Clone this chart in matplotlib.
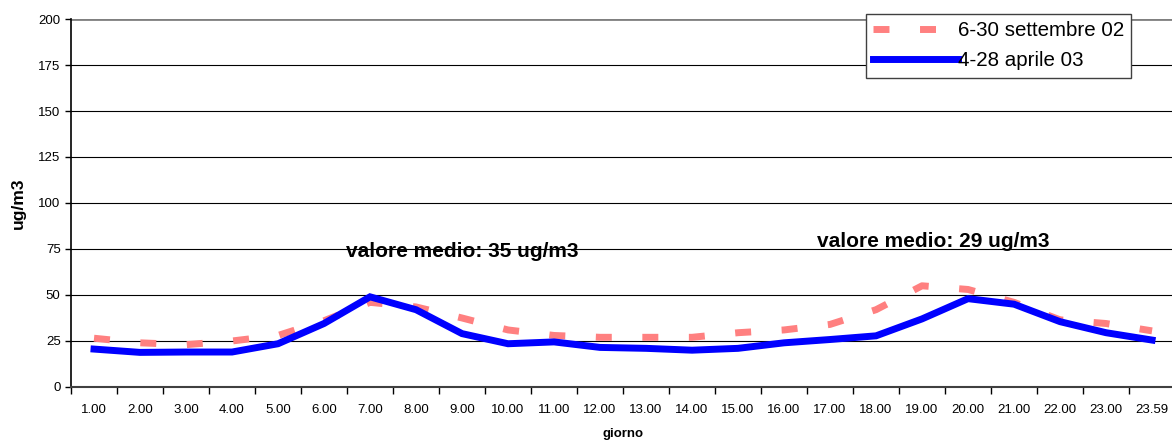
import numpy as np
import matplotlib.pyplot as plt
from matplotlib.ticker import FixedLocator

plt.rcParams["font.family"] = ["Liberation Sans", "DejaVu Sans"]

ore = ["1.00", "2.00", "3.00", "4.00", "5.00", "6.00", "7.00", "8.00",
       "9.00", "10.00", "11.00", "12.00", "13.00", "14.00", "15.00", "16.00",
       "17.00", "18.00", "19.00", "20.00", "21.00", "22.00", "23.00", "23.59"]
settembre_02 = [26.5, 24, 23, 25, 28, 36, 46, 43.5, 37.5, 31, 28, 27,
                27, 27, 29.5, 31, 34, 42, 55, 53, 46, 36.5, 34.5, 30.5]
aprile_03 = [20.6, 18.8, 19, 19, 23.5, 34.5, 49, 42, 29, 23.5, 24.5, 21.5,
             21, 20, 21, 24, 25.8, 27.8, 37, 48, 45, 35.5, 29.5, 25.5]
medie = [("valore medio: 35 ug/m3", 8.0, 73.5),
         ("valore medio: 29 ug/m3", 18.25, 79)]

fig = plt.figure(figsize=(11.72, 4.4), dpi=100)
ax = fig.add_axes([0.0606, 0.1205, 0.942, 0.8363])

x = np.arange(len(ore))
ax.plot(x, settembre_02, color="#FF8080", lw=5, dashes=(2.3, 4.4),
        label="6-30 settembre 02", dash_capstyle="butt")
ax.plot(x, aprile_03, color="#0000FF", lw=5, label="4-28 aprile 03",
        solid_joinstyle="miter")

ax.set_xlim(-0.5, len(ore) - 0.5)
ax.set_ylim(0, 200)
ax.set_yticks(np.arange(0, 201, 25))
ax.yaxis.grid(True, color="black", lw=0.8)
ax.set_axisbelow(True)
ax.set_xticks(x)
ax.set_xticklabels(ore, fontsize=9.5)
ax.tick_params(axis="x", which="major", length=0, pad=12)
ax.xaxis.set_minor_locator(FixedLocator(np.arange(-0.5, len(ore), 1)))
ax.tick_params(axis="x", which="minor", length=5, width=1, direction="out")
ax.tick_params(axis="y", labelsize=9.5, length=4, width=1)

for s in ["top", "right"]:
    ax.spines[s].set_visible(False)
ax.spines["left"].set_linewidth(1.2)
ax.spines["bottom"].set_linewidth(1.5)
ax.spines["bottom"].set_color("#404040")
ax.axhline(200, color="#808080", lw=2)

ax.set_ylabel("ug/m3", fontsize=12.5, fontweight="bold", labelpad=9)
ax.set_xlabel("giorno", fontsize=9.5, fontweight="bold", labelpad=9)

for testo, xp, yp in medie:
    ax.text(xp, yp, testo, fontsize=15, fontweight="bold", ha="center",
            va="center")

leg = ax.legend(loc="upper right", bbox_to_anchor=(1131 / 1172, 1 - 14 / 440),
                bbox_transform=fig.transFigure, borderaxespad=0,
                fontsize=14.8, frameon=True, fancybox=False,
                handlelength=4.1, handletextpad=0.0, borderpad=0.35,
                labelspacing=0.55, framealpha=1)
leg.get_frame().set_edgecolor("#404040")
leg.get_frame().set_linewidth(1)

fig.savefig("out.png", dpi=100)
